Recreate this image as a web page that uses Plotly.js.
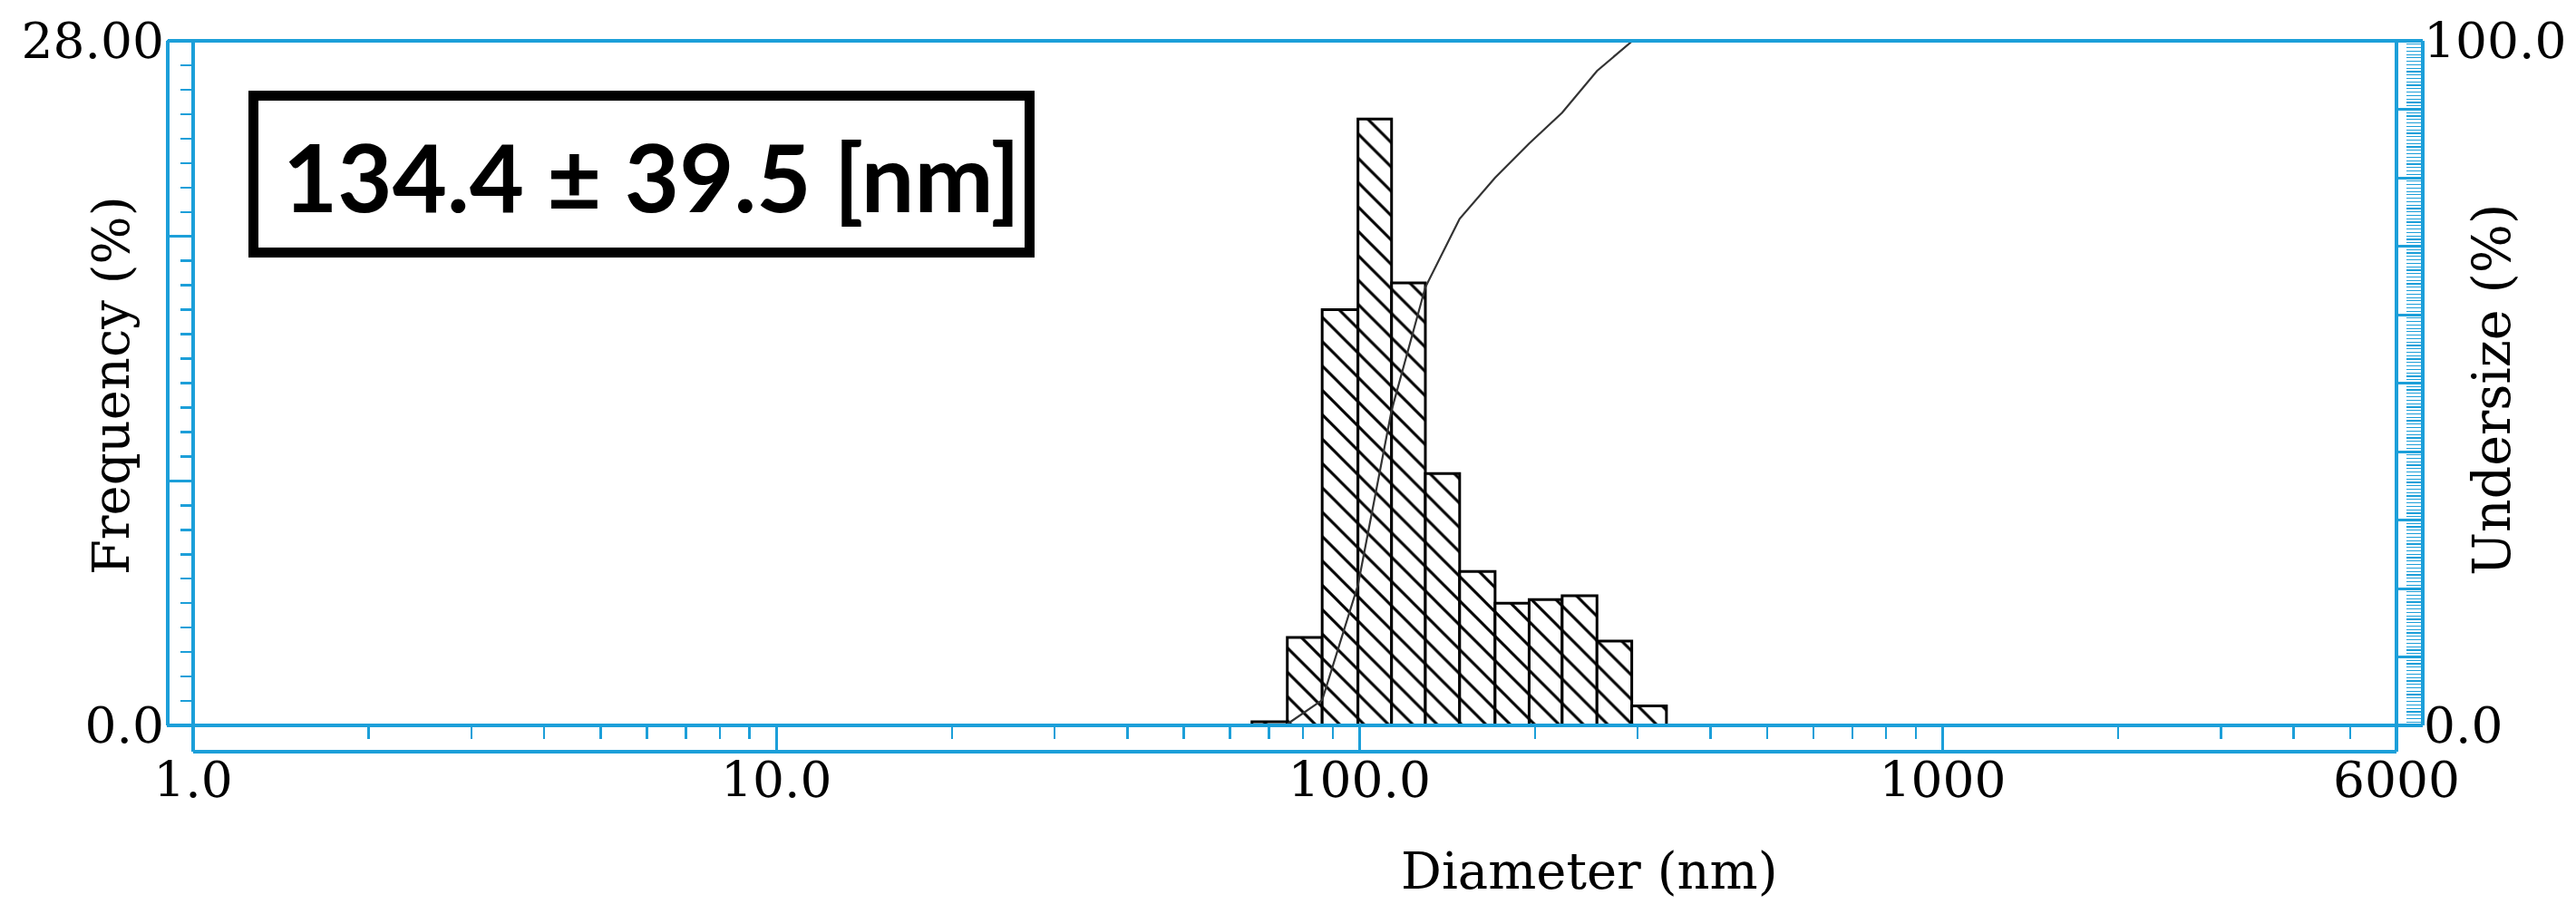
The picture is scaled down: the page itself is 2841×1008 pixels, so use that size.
<!DOCTYPE html>
<html>
<head>
<meta charset="utf-8">
<script src="https://cdn.plot.ly/plotly-3.0.1.min.js"></script>
<style>
  html, body { margin: 0; padding: 0; background: #ffffff; }
  #chart { width: 2841px; height: 1008px; }
</style>
</head>
<body>
<div id="chart"></div>
<script>
// ---- data ----
// histogram bin edges (nm), log-spaced
const binEdges = [65.4, 75.2, 86.3, 99.4, 113.5, 129.7, 148.5, 170.8, 195.4, 222.6, 255.4, 293, 336];
// frequency (%) per bin
const frequency = [0.15, 3.6, 17.0, 24.8, 18.1, 10.3, 6.3, 5.0, 5.15, 5.3, 3.45, 0.8];
// cumulative undersize curve (%)
const undersizeX = [75.2, 86.3, 99.4, 113.5, 129.7, 148.5, 170.8, 195.4, 222.6, 255.4, 293, 315];
const undersize  = [0.2, 3.7, 20.5, 46, 64, 74, 80, 85, 89.5, 95.6, 99.9, 100];
// axis tick labels
const xTickVals = [1, 10, 100, 1000, 6000];
const xTickText = ['1.0', '10.0', '100.0', '1000', '6000'];
const yTickVals = [0, 10, 20, 28];
const yTickText = ['0.0', '', '', '28.00'];
const y2TickVals = [0, 10, 20, 30, 40, 50, 60, 70, 80, 90, 100];
const y2TickText = ['0.0', '', '', '', '', '', '', '', '', '', '100.0'];
const statText = '134.4 ± 39.5 [nm]';

// ---- layout constants (pixels) ----
const W = 2841, H = 1008;
const L = 213, R = 2672, T = 45, B = 800;
const PW = R - L, PH = B - T;
const BLUE = '#1c9fd9';
const SERIF = 'DejaVu Serif, serif';
const fx = p => (p - L) / PW;
const fy = p => (B - p) / PH;

// ---- traces ----
const traces = [];
for (let i = 0; i < frequency.length; i++) {
  const x0 = binEdges[i], x1 = binEdges[i + 1], h = frequency[i];
  traces.push({
    type: 'scatter', mode: 'lines', xaxis: 'x', yaxis: 'y',
    x: [x0, x0, x1, x1, x0], y: [0, h, h, 0, 0],
    fill: 'toself', fillcolor: '#ffffff',
    fillpattern: { shape: '\\', size: 19, solidity: 0.16, fgcolor: '#000000', bgcolor: '#ffffff' },
    line: { color: '#000000', width: 3 },
    hoverinfo: 'skip', showlegend: false
  });
}
traces.push({
  type: 'scatter', mode: 'lines', xaxis: 'x', yaxis: 'y2',
  x: undersizeX, y: undersize,
  line: { color: '#333333', width: 2.2 },
  showlegend: false
});

// minor ticks for log axis: 2..9 in each decade up to 6000
const xMinor = [];
for (let d = 1; d <= 1000; d *= 10) {
  for (let k = 2; k <= 9; k++) { if (k * d < 6000) xMinor.push(k * d); }
}

function seg(x0, y0, x1, y1, w) {
  return { type: 'line', xref: 'paper', yref: 'paper', x0: fx(x0), y0: fy(y0), x1: fx(x1), y1: fy(y1),
           line: { color: BLUE, width: w || 4 }, layer: 'above' };
}
const xEnd = L + (Math.log10(6000) / (Math.log10(6000) + 29 / 643.2)) * PW;
const shapes = [
  seg(185, T, 185, B),          // left outer line
  seg(L, T, L, 829),            // left inner line
  seg(185, T, R, T),            // top line
  seg(185, B, R, B),            // x-axis line
  seg(L, 829, xEnd, 829),       // bottom band line
  seg(xEnd, T, xEnd, 829),      // right inner line
  seg(R, T, R, B),              // right outer line
  { type: 'rect', xref: 'paper', yref: 'paper', x0: fx(279.5), x1: fx(1135.5), y0: fy(105.5), y1: fy(278.5),
    line: { color: '#000000', width: 11 }, fillcolor: 'rgba(0,0,0,0)', layer: 'above' }
];

const layout = {
  width: W, height: H,
  margin: { l: L, r: W - R, t: T, b: H - B, pad: 0 },
  paper_bgcolor: '#ffffff', plot_bgcolor: '#ffffff',
  showlegend: false,
  xaxis: {
    type: 'log', range: [0, Math.log10(6000) + 29 / 643.2],
    tickmode: 'array', tickvals: xTickVals, ticktext: xTickText,
    ticks: 'outside', ticklen: 28, tickwidth: 3, tickcolor: BLUE,
    minor: { tickmode: 'array', tickvals: xMinor, ticks: 'outside', ticklen: 14, tickwidth: 2.5, tickcolor: BLUE },
    showline: false, showgrid: false, zeroline: false,
    tickfont: { family: SERIF, size: 55, color: '#000000' },
    ticklabelstandoff: -16
  },
  yaxis: {
    range: [0, 28],
    tickmode: 'array', tickvals: yTickVals, ticktext: yTickText,
    ticks: 'outside', ticklen: 28, tickwidth: 3, tickcolor: BLUE,
    minor: { tickmode: 'linear', tick0: 0, dtick: 1, ticks: 'outside', ticklen: 13, tickwidth: 2.5, tickcolor: BLUE },
    showline: false, showgrid: false, zeroline: false,
    tickfont: { family: SERIF, size: 55, color: '#000000' },
    ticklabelstandoff: -8
  },
  yaxis2: {
    overlaying: 'y', side: 'right', anchor: 'x',
    range: [0, 100],
    tickmode: 'array', tickvals: y2TickVals, ticktext: y2TickText,
    ticks: 'inside', ticklen: 29, tickwidth: 3, tickcolor: BLUE,
    minor: { tickmode: 'linear', tick0: 0, dtick: 0.5, ticks: 'inside', ticklen: 18, tickwidth: 1.2, tickcolor: BLUE },
    showline: false, showgrid: false, zeroline: false,
    tickfont: { family: SERIF, size: 55, color: '#000000' }
  },
  shapes: shapes,
  annotations: [
    { xref: 'paper', yref: 'paper', x: fx(718), y: fy(194), xanchor: 'center', yanchor: 'middle',
      text: statText, showarrow: false,
      font: { family: 'Lato, sans-serif', size: 104, color: '#000000', weight: 700 } },
    { xref: 'paper', yref: 'paper', x: fx(1753), y: fy(960), xanchor: 'center', yanchor: 'middle',
      text: 'Diameter (nm)', showarrow: false,
      font: { family: SERIF, size: 56, color: '#000000' } },
    { xref: 'paper', yref: 'paper', x: fx(122), y: fy(425), xanchor: 'center', yanchor: 'middle',
      text: 'Frequency (%)', textangle: -90, showarrow: false,
      font: { family: SERIF, size: 56, color: '#000000' } },
    { xref: 'paper', yref: 'paper', x: fx(2748), y: fy(430), xanchor: 'center', yanchor: 'middle',
      text: 'Undersize (%)', textangle: -90, showarrow: false,
      font: { family: SERIF, size: 57, color: '#000000' } }
  ]
};

Plotly.newPlot('chart', traces, layout, { displayModeBar: false, staticPlot: true });
</script>
</body>
</html>
